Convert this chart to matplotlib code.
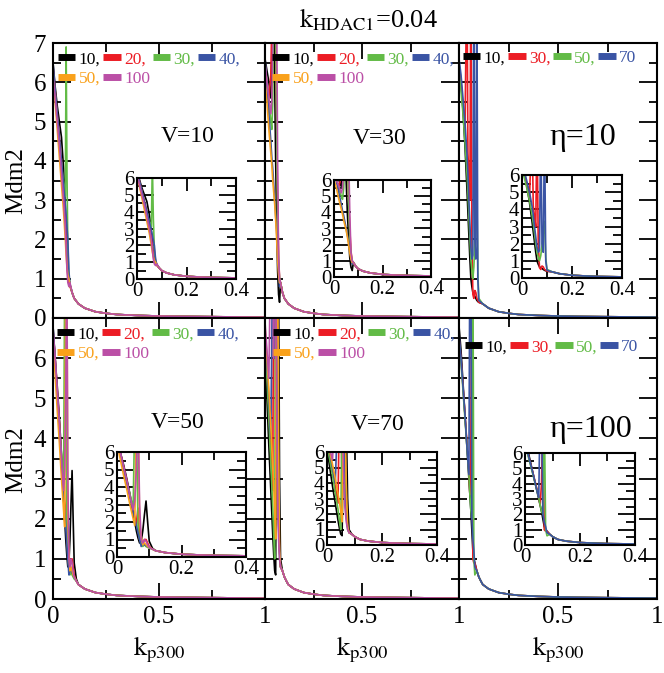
import matplotlib
matplotlib.use('Agg')
import matplotlib.pyplot as plt
from matplotlib.lines import Line2D
from matplotlib.ticker import MultipleLocator

plt.rcParams['font.family'] = 'Liberation Serif'
plt.rcParams['mathtext.fontset'] = 'stix'

W, H = 664, 673

BLACK, RED, GREEN, BLUE = '#000000', '#ec1c24', '#62bb46', '#3a54a4'
ORANGE, MAGENTA = '#f9a11b', '#bb4fa6'
V_COLORS = [BLACK, RED, GREEN, BLUE, ORANGE, MAGENTA]
ETA_COLORS = [BLACK, RED, GREEN, BLUE]

V_LABELS = ['10,', '20,', '30,', '40,', '50,', '100']
ETA_LABELS = ['10,', '30,', '50,', '70']

# tail (k_p300 > 0.1), all curves lie on top of each other there
TAIL_K = [0.12, 0.15, 0.2, 0.25, 0.3, 0.4, 0.5, 0.6, 0.8, 1.0]
TAIL_M = [0.36, 0.25, 0.16, 0.12, 0.09, 0.065, 0.05, 0.04, 0.03, 0.02]

# V=10
V10_K = [0, .01, .02, .03, .04, .05, .058, .062, .066, .07, .075, .08, .09, .1]
V10_M = [
    [6.5, 5.9, 5.4, 5.0, 4.6, 3.8, 2.8, 2.2, 1.6, 1.2, 1.0, 0.85, 0.65, 0.5],
    [6.4, 5.8, 5.2, 4.6, 4.0, 3.2, 2.5, 2.0, 1.5, 1.1, 0.9, 0.8, 0.65, 0.5],
    [6.3, 5.7, 5.1, 4.5, 3.9, 3.4, 3.1, 6.9, 3.6, 1.8, 1.1, 0.85, 0.65, 0.5],
    [6.5, 5.8, 5.2, 4.6, 4.0, 3.4, 2.9, 2.6, 2.3, 2.0, 1.2, 0.85, 0.65, 0.5],
    [6.1, 5.5, 4.8, 4.1, 3.4, 2.7, 2.0, 1.6, 1.3, 1.1, 1.0, 0.85, 0.65, 0.5],
    [6.2, 5.6, 5.0, 4.4, 3.7, 3.0, 2.3, 1.8, 1.2, 0.9, 0.8, 0.9, 0.65, 0.5],
]

# V=30
V30_K = [0, .01, .02, .03, .035, .04, .045, .05, .055, .06, .065, .07, .075, .08, .09, .1]
V30_M = [
    [6.6, 6.3, 6.0, 5.6, 6.5, 8.0, 8.0, 6.0, 4.0, 2.5, 1.2, 0.6, 0.4, 0.9, 0.65, 0.5],
    [6.4, 6.0, 5.6, 6.2, 7.5, 8.5, 8.5, 8.0, 7.5, 5.0, 3.0, 1.6, 1.0, 0.9, 0.65, 0.5],
    [6.5, 6.0, 5.5, 5.0, 4.8, 5.5, 8.0, 8.5, 8.0, 5.0, 2.5, 1.4, 1.0, 0.9, 0.65, 0.5],
    [6.6, 5.9, 5.2, 4.5, 4.1, 3.8, 3.4, 3.0, 2.6, 2.2, 1.7, 1.2, 0.8, 0.9, 0.65, 0.5],
    [6.0, 5.5, 4.8, 4.2, 3.9, 3.5, 3.2, 2.9, 2.5, 2.0, 1.5, 1.1, 0.9, 0.9, 0.65, 0.5],
    [6.5, 6.0, 5.6, 5.2, 5.5, 7.0, 9.0, 9.0, 9.0, 8.0, 4.0, 1.5, 1.0, 0.9, 0.65, 0.5],
]

# eta=10
E10_K = [0, .01, .02, .03, .04, .045, .05, .055, .06, .065, .07, .075, .08, .085, .09, .095, .1]
E10_M = [
    [6.5, 6.0, 5.3, 4.4, 3.3, 2.7, 2.1, 1.5, 1.0, 0.8, 0.65, 0.6, 0.55, 0.5, 0.45, 0.42, 0.4],
    [6.4, 6.0, 5.4, 4.7, 9.0, 4.2, 3.6, 3.0, 9.0, 2.0, 0.6, 0.5, 0.7, 0.65, 0.5, 0.45, 0.4],
    [6.3, 5.8, 5.2, 4.5, 3.7, 3.2, 2.6, 2.0, 1.5, 1.2, 1.0, 1.3, 1.9, 2.6, 3.3, 1.2, 0.5],
    [6.6, 6.2, 5.6, 5.0, 4.2, 3.7, 3.0, 2.4, 1.8, 1.5, 1.6, 9.0, 2.0, 1.5, 9.0, 1.0, 0.45],
]

# V=50
V50_K = [0, .01, .02, .03, .04, .05, .055, .06, .065, .07, .075, .08, .085, .09, .095, .1, .11]
V50_M = [
    [6.8, 6.0, 5.3, 4.5, 3.6, 2.5, 2.0, 1.5, 1.1, 0.8, 0.9, 1.5, 2.4, 3.2, 2.0, 0.9, 0.5],
    [6.7, 6.0, 5.2, 4.4, 3.5, 2.7, 2.3, 1.9, 2.8, 1.2, 0.8, 0.7, 1.0, 1.0, 0.8, 0.6, 0.45],
    [6.6, 5.9, 5.1, 4.3, 3.6, 2.8, 8.0, 8.0, 1.8, 1.0, 0.8, 0.6, 0.7, 0.6, 0.55, 0.5, 0.45],
    [6.8, 6.0, 5.1, 4.2, 3.4, 2.6, 2.2, 1.8, 1.4, 1.0, 0.6, 0.8, 0.7, 0.65, 0.6, 0.55, 0.45],
    [6.5, 5.6, 4.7, 3.9, 3.0, 2.2, 1.8, 8.0, 9.0, 2.0, 1.2, 0.7, 0.8, 0.7, 0.6, 0.55, 0.45],
    [6.7, 6.0, 5.2, 4.4, 3.5, 2.7, 3.2, 5.0, 8.5, 3.0, 1.0, 0.8, 1.0, 0.9, 0.7, 0.55, 0.45],
]

# V=70
V70_K = [0, .01, .02, .03, .04, .045, .05, .055, .06, .065, .07, .075, .08, .09, .1, .11]
V70_M = [
    [6.2, 5.0, 3.8, 2.7, 1.6, 1.1, 0.7, 0.6, 9.0, 9.0, 8.0, 3.0, 1.0, 0.7, 0.55, 0.45],
    [6.6, 5.7, 4.8, 3.8, 2.7, 9.0, 9.0, 4.0, 9.0, 6.0, 2.0, 1.2, 0.8, 0.7, 0.55, 0.45],
    [6.4, 5.5, 4.5, 3.4, 2.3, 1.6, 1.0, 9.0, 9.0, 5.0, 2.0, 1.0, 0.8, 0.7, 0.55, 0.45],
    [6.7, 5.9, 5.0, 4.0, 9.0, 9.0, 6.0, 9.0, 9.0, 3.0, 1.8, 1.2, 0.8, 0.7, 0.55, 0.45],
    [6.8, 6.0, 5.2, 4.3, 3.3, 2.8, 2.2, 1.5, 9.0, 9.0, 4.0, 1.2, 0.8, 0.7, 0.55, 0.45],
    [6.9, 6.2, 5.5, 9.0, 9.0, 6.0, 9.0, 9.0, 5.0, 2.5, 1.5, 1.0, 0.8, 0.7, 0.55, 0.45],
]

# eta=100
E100_K = [0, .01, .02, .03, .04, .05, .055, .06, .065, .07, .075, .08, .09, .1, .11]
E100_M = [
    [6.8, 6.2, 5.4, 4.6, 3.8, 3.0, 2.6, 2.2, 1.7, 1.2, 1.0, 0.9, 0.7, 0.55, 0.45],
    [6.5, 6.0, 5.3, 4.6, 3.9, 3.2, 2.6, 4.0, 9.0, 1.0, 0.9, 0.9, 0.7, 0.55, 0.45],
    [6.4, 5.9, 5.2, 4.5, 3.8, 3.1, 2.6, 2.2, 2.0, 9.0, 1.0, 0.6, 0.7, 0.55, 0.45],
    [6.6, 6.0, 5.3, 4.6, 3.8, 3.1, 9.0, 9.0, 2.0, 1.5, 1.2, 0.8, 0.7, 0.55, 0.45],
]


def box(x0, y0, x1, y1):
    """pixel box (top-left origin) -> figure fraction rect"""
    return [x0 / W, 1 - y1 / H, (x1 - x0) / W, (y1 - y0) / H]


# panel frames and inset frames, in pixels
PANEL_BOX = [(53, 43, 265, 318), (265, 43, 459, 318), (459, 43, 657, 318),
             (53, 318, 265, 599), (265, 318, 459, 599), (459, 318, 657, 599)]
INSET_BOX = [(137, 178, 236, 279), (334, 180, 431, 277), (522, 175, 622, 278),
             (117, 452, 246, 557), (327, 452, 437, 545), (525, 453, 635, 545)]
LEGEND_OFF = [(5, 8), (7, 8), (4, 7), (4, 8), (8, 8), (6, 21)]
TAGS = [('V=10', 188, 136, 17), ('V=30', 380, 138, 17), ('η=10', 583, 138, 23),
        ('V=50', 178, 422, 17), ('V=70', 378, 425, 17), ('η=100', 591, 430, 23)]

PANELS = [(V10_K, V10_M, V_LABELS, V_COLORS), (V30_K, V30_M, V_LABELS, V_COLORS),
          (E10_K, E10_M, ETA_LABELS, ETA_COLORS), (V50_K, V50_M, V_LABELS, V_COLORS),
          (V70_K, V70_M, V_LABELS, V_COLORS), (E100_K, E100_M, ETA_LABELS, ETA_COLORS)]

fig = plt.figure(figsize=(W / 100, H / 100), dpi=100)

for i, (k, curves, labels, colors) in enumerate(PANELS):
    ax = fig.add_axes(box(*PANEL_BOX[i]))
    ins = fig.add_axes(box(*INSET_BOX[i]))
    for m, c in zip(curves, colors):
        for a in (ax, ins):
            a.plot(k + TAIL_K, m + TAIL_M, color=c, lw=1.2)

    # main axes
    ax.set_xlim(0, 1)
    ax.set_ylim(0, 7)
    ax.xaxis.set_major_locator(MultipleLocator(0.5))
    ax.xaxis.set_minor_locator(MultipleLocator(0.25))
    ax.yaxis.set_major_locator(MultipleLocator(1))
    ax.yaxis.set_minor_locator(MultipleLocator(0.5))
    ax.tick_params(which='both', direction='in', top=True, right=True, width=1.3,
                   labelsize=18, pad=5)
    ax.tick_params(axis='y', which='major', length=13)
    ax.tick_params(axis='y', which='minor', length=6)
    ax.tick_params(axis='x', which='major', length=11.5)
    ax.tick_params(axis='x', which='minor', length=6.5)
    for s in ax.spines.values():
        s.set_linewidth(1.5)
    col, row = i % 3, i // 3
    if col > 0:
        ax.tick_params(labelleft=False)
    if row == 0:
        ax.tick_params(labelbottom=False)
    else:
        ax.set_xticks([0, 0.5, 1], ['0' if col == 0 else '', '0.5', '1'])
        ax.set_yticks(range(8), [str(v) for v in range(7)] + [''])

    # legend: order handles so the rows read left to right
    handles = [Line2D([], [], color=c, lw=5, solid_capstyle='butt') for c in colors]
    order = [0, 4, 1, 5, 2, 3] if len(labels) == 6 else [0, 1, 2, 3]
    x0, y0, x1, y1 = PANEL_BOX[i]
    dx, dy = LEGEND_OFF[i]
    ax.legend([handles[j] for j in order], [labels[j] for j in order], ncol=4,
              loc='upper left', bbox_to_anchor=(dx / (x1 - x0), 1 - dy / (y1 - y0)),
              frameon=False, fontsize=12.5, handlelength=1.0, handletextpad=0.2,
              columnspacing=0.15, labelspacing=0.2, borderpad=0, borderaxespad=0,
              labelcolor='linecolor')

    # inset
    ins.set_xlim(0, 0.4)
    ins.set_ylim(0, 6)
    ins.xaxis.set_major_locator(MultipleLocator(0.2))
    ins.xaxis.set_minor_locator(MultipleLocator(0.1))
    ins.yaxis.set_major_locator(MultipleLocator(1))
    ins.yaxis.set_minor_locator(MultipleLocator(0.5))
    ins.tick_params(which='both', direction='in', top=True, right=True, width=1.3,
                    labelsize=15, pad=2)
    ins.tick_params(axis='y', which='major', length=12)
    ins.tick_params(axis='y', which='minor', length=6.5)
    ins.tick_params(axis='x', which='major', length=9)
    ins.tick_params(axis='x', which='minor', length=6)
    ins.set_xticks([0, 0.2, 0.4], ['0', '0.2', '0.4'])
    for s in ins.spines.values():
        s.set_linewidth(1.5)

    tag, tx, ty, fs = TAGS[i]
    fig.text(tx / W, 1 - ty / H, tag, ha='center', va='center', fontsize=fs)

fig.text(368 / W, 1 - 20 / H, r'$\mathrm{k}_{\mathrm{HDAC1}}$=0.04', ha='center',
         va='center', fontsize=19)
for yc in (181, 460):
    fig.text(16 / W, 1 - yc / H, 'Mdm2', rotation=90, ha='center', va='center',
             fontsize=18)
for xc in (159, 362, 558):
    fig.text(xc / W, 1 - 650 / H, r'$\mathrm{k}_{\mathrm{p300}}$', ha='center',
             va='center', fontsize=19)

fig.savefig('out.png', dpi=100)
